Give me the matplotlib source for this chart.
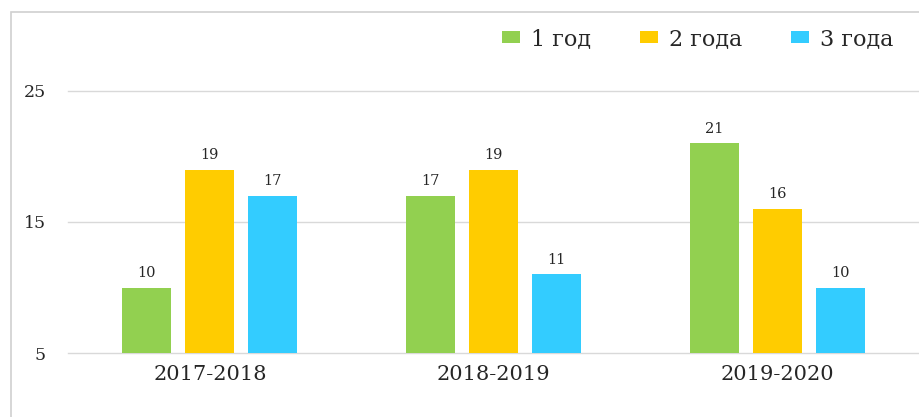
import matplotlib
matplotlib.use("Agg")
import matplotlib.pyplot as plt
import numpy as np
from matplotlib.patches import Rectangle

# wide serif to get close to the stretched Times look of the original
plt.rcParams['font.family'] = ['DejaVu Serif', 'Liberation Serif']

# Data
periods = ["2017-2018", "2018-2019", "2019-2020"]
series_names = ["1 год", "2 года", "3 года"]
year1 = [10, 17, 21]
year2 = [19, 19, 16]
year3 = [17, 11, 10]
y_ticks = [5, 15, 25]

COLORS = ["#92D050", "#FFCC00", "#33CCFF"]
GRID = "#D9D9D9"
TXT = "#262626"

fig = plt.figure(figsize=(9.19, 4.17), dpi=100)
ax = fig.add_axes([68 / 919, 1 - 353 / 417, 1 - 68 / 919, (353 - 91) / 417])

x = np.arange(len(periods))
bar_w = 0.173
step = 0.222
handles = []
for i, (vals, name, col) in enumerate(zip([year1, year2, year3], series_names, COLORS)):
    pos = x + (i - 1) * step
    bars = ax.bar(pos, np.array(vals) - 5, bar_w, bottom=5, color=col, label=name, zorder=3)
    handles.append(bars)
    for p, v in zip(pos, vals):
        ax.annotate(str(v), (p, v), xytext=(0, 5.5), textcoords="offset points",
                    ha="center", va="bottom", fontsize=10.5, color=TXT)

ax.set_xlim(-0.5, 2.5)
ax.set_ylim(5, 25)
ax.set_yticks(y_ticks)
ax.set_yticklabels([str(t) for t in y_ticks], fontsize=12.5, color=TXT)
ax.set_xticks(x)
ax.set_xticklabels(periods, fontsize=15, color=TXT)
ax.tick_params(axis="both", length=0)
ax.tick_params(axis="y", pad=16)
ax.tick_params(axis="x", pad=9)
ax.yaxis.grid(True, color=GRID, linewidth=1.0, zorder=0)
for gl in ax.get_ygridlines():
    gl.set_clip_on(False)
ax.set_axisbelow(True)
for s in ax.spines.values():
    s.set_visible(False)

# outer chart border (only top and left visible in the crop)
fig.add_artist(Rectangle((11 / 919, -0.1), 1.2, 1 - 12 / 417 + 0.1,
                         transform=fig.transFigure, fill=False,
                         edgecolor="#D0D0D0", linewidth=1.2))

fig.legend(handles=handles, labels=series_names, loc="center",
           bbox_to_anchor=(698 / 919, 1 - 39 / 417), ncol=3, frameon=False,
           fontsize=16, handlelength=0.8, handleheight=0.45, handletextpad=0.5,
           columnspacing=2.2, labelcolor=TXT)

fig.savefig("out.png", dpi=100)
